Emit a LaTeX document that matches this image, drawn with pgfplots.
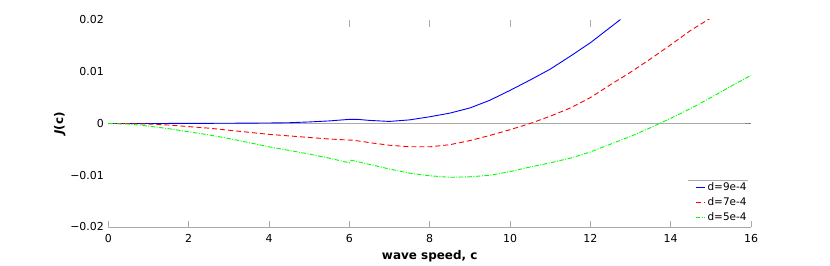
\documentclass[border=0pt]{standalone}
\usepackage{fontspec}
\setmainfont{DejaVu Sans}
\usepackage{pgfplots}
\pgfplotsset{compat=1.18}
\definecolor{axgray}{RGB}{170,170,170}
\begin{document}
\begin{tikzpicture}
\begin{axis}[
  scale only axis,
  width=642.6bp, height=207bp,
  xmin=0, xmax=16, ymin=-0.02, ymax=0.02,
  xtick={0,2,4,6,8,10,12,14,16},
  xticklabels={0,2,4,6,8,10,12,14,16},
  ytick={-0.02,-0.01,0,0.01,0.02},
  yticklabels={−0.02,−0.01,0,0.01,0.02},
  scaled y ticks=false,
  scaled x ticks=false,
  axis line style={draw=none},
  tick align=inside,
  xtick pos=bottom,
  major tick length=6.5bp,
  x tick style={axgray, line width=0.6bp},
  y tick style={draw=none},
  ticklabel style={font=\fontsize{11}{13}\selectfont},
  xticklabel style={yshift=-3.5bp},
  yticklabel style={xshift=-1bp},
  xlabel={\textbf{wave speed, c}},
  ylabel={\textbf{\textit{J}(c)}},
  xlabel style={font=\fontsize{12}{14}\selectfont, yshift=-1bp},
  ylabel style={font=\fontsize{12}{14}\selectfont, yshift=-2bp},
  legend style={at={(rel axis cs:0.998,0.01)}, anchor=south east, draw=none, fill=none,
    font=\fontsize{10.5}{12}\selectfont, inner sep=1bp, row sep=1.5bp},
  legend cell align=left,
  legend image post style={xscale=0.55},
]
\draw[axgray, line width=0.6bp] (axis cs:0,0) -- (axis cs:16,0);
\draw[gray, line width=0.6bp] (axis cs:15.85,0) -- (axis cs:16,0);
\draw[axgray, line width=0.6bp] (rel axis cs:0,0) -- (rel axis cs:1,0);
\draw[axgray, line width=0.6bp] (axis cs:14.44,-0.0109) -- (axis cs:15.93,-0.0109);
\draw[axgray, line width=0.6bp] (axis cs:6,0.02) -- (axis cs:6,0.0187);
\draw[axgray, line width=0.6bp] (axis cs:8,0.02) -- (axis cs:8,0.0187);
\draw[axgray, line width=0.6bp] (axis cs:10,0.02) -- (axis cs:10,0.0187);
\draw[axgray, line width=0.6bp] (axis cs:12,0.02) -- (axis cs:12,0.0187);

\addplot[blue, line width=0.9bp] coordinates {
(0,0) (1,0) (2,0.00002) (3,0.00005) (4,0.0001) (4.5,0.00015) (5,0.0003) (5.5,0.0005)
(6,0.0008) (6.2,0.0008) (6.5,0.0006) (7,0.0004) (7.5,0.0007) (8,0.0013) (8.5,0.0020)
(9,0.0030) (9.5,0.0045) (10,0.0064) (10.5,0.0084) (11,0.0105) (11.5,0.0130)
(12,0.0156) (12.5,0.0186) (12.75,0.0201)
};
\addlegendentry{d=9e-4}

\addplot[red, line width=0.9bp, dash pattern=on 5bp off 3bp] coordinates {
(0,0) (0.5,-0.00002) (1,-0.0001) (1.5,-0.0003) (2,-0.0006) (2.5,-0.0009) (3,-0.0013)
(3.5,-0.0017) (4,-0.0021) (4.5,-0.0024) (5,-0.0027) (5.5,-0.0030) (6,-0.0032)
(6.05,-0.0032) (6.35,-0.0035) (6.5,-0.0037) (7,-0.0042) (7.5,-0.0045) (8,-0.0045)
(8.5,-0.0041) (9,-0.0033) (9.5,-0.0023) (10,-0.0012) (10.5,0.0000) (11,0.0014)
(11.5,0.0030) (12,0.0050) (12.5,0.0075) (13,0.0099) (13.5,0.0125) (14,0.0152)
(14.5,0.0180) (15,0.0204)
};
\addlegendentry{d=7e-4}

\addplot[green, line width=0.9bp, dash pattern=on 4.5bp off 1.5bp on 1bp off 1.5bp] coordinates {
(0,0) (0.5,-0.0001) (1,-0.0005) (1.5,-0.0010) (2,-0.0016) (2.5,-0.0022) (3,-0.0029)
(3.5,-0.0037) (4,-0.0045) (4.5,-0.0052) (5,-0.0059) (5.5,-0.0067) (6,-0.0076)
(6.05,-0.0071) (6.5,-0.0079) (7,-0.0088) (7.5,-0.0096) (8,-0.0101) (8.5,-0.0104)
(9,-0.0103) (9.5,-0.0100) (10,-0.0093) (10.5,-0.0084) (11,-0.0076) (11.5,-0.0067)
(12,-0.0055) (12.5,-0.0040) (13,-0.0025) (13.5,-0.0008) (14,0.0010) (14.5,0.0029)
(15,0.0050) (15.5,0.0072) (16,0.0093)
};
\addlegendentry{d=5e-4}
\end{axis}
\path (-108.4bp,-36bp) rectangle (721.6bp,227bp);
\end{tikzpicture}
\end{document}
